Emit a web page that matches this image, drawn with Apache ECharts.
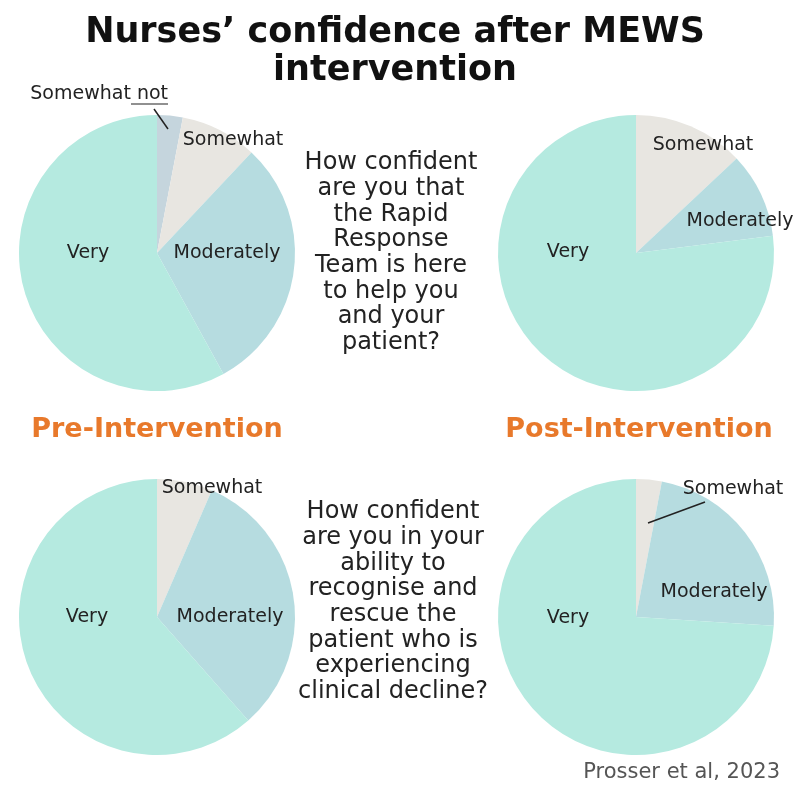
<!DOCTYPE html>
<html>
<head>
<meta charset="utf-8">
<script src="https://cdn.jsdelivr.net/npm/echarts@6/dist/echarts.min.js"></script>
<style>
  html, body { margin: 0; padding: 0; background: #fff; }
  #main { width: 800px; height: 800px; }
</style>
</head>
<body>
<div id="main"></div>
<script>
// 数据
var categories = ['Somewhat not', 'Somewhat', 'Moderately', 'Very'];
var rrtPre  = [3, 9, 30, 58];     // Rapid Response Team - pre
var rrtPost = [0, 13, 10, 77];    // Rapid Response Team - post
var recPre  = [0, 6.5, 32, 61.5]; // recognise & rescue - pre
var recPost = [0, 3, 23, 74];     // recognise & rescue - post
var q1Lines = ['How confident', 'are you that', 'the Rapid', 'Response', 'Team is here', 'to help you', 'and your', 'patient?'];
var q2Lines = ['How confident', 'are you in your', 'ability to', 'recognise and', 'rescue the', 'patient who is', 'experiencing', 'clinical decline?'];

(function () {
    var myChart = echarts.init(document.getElementById('main'));
    var colors = ['#c5d5dd', '#e8e6e1', '#b6dce0', '#b5eae0'];
    var FONT = 'DejaVu Sans';

    function pieData(values) {
        var out = [];
        for (var i = 0; i < categories.length; i++) {
            if (values[i] > 0) {
                out.push({ name: categories[i], value: values[i], itemStyle: { color: colors[i] } });
            }
        }
        return out;
    }

    function pie(values, cx, cy) {
        return {
            type: 'pie',
            center: [cx, cy],
            radius: 138,
            startAngle: 90,
            clockwise: true,
            label: { show: false },
            labelLine: { show: false },
            silent: true,
            z: 1,
            data: pieData(values)
        };
    }

    // 扇区标签
    function sliceLabel(s, x, y, align) {
        return { type: 'text', x: x, y: y, z: 100, style: { text: s, font: '19px "' + FONT + '"', fill: '#222', align: align || 'center', verticalAlign: 'middle' } };
    }
    function line(x1, y1, x2, y2, w) {
        return { type: 'line', z: 100, shape: { x1: x1, y1: y1, x2: x2, y2: y2 }, style: { stroke: '#222', lineWidth: w || 1.5 } };
    }

    var graphics = [
        sliceLabel('Somewhat not', 168, 94, 'right'),
        line(131, 104, 168, 104, 1.2),
        line(154, 109, 168, 129),
        sliceLabel('Somewhat', 233, 140),
        sliceLabel('Moderately', 227, 253),
        sliceLabel('Very', 88, 253),

        sliceLabel('Somewhat', 703, 145),
        sliceLabel('Moderately', 740, 221),
        sliceLabel('Very', 568, 252),

        sliceLabel('Somewhat', 212, 488),
        sliceLabel('Moderately', 230, 617),
        sliceLabel('Very', 87, 617),

        sliceLabel('Somewhat', 733, 489),
        line(648, 523, 705, 502),
        sliceLabel('Moderately', 714, 592),
        sliceLabel('Very', 568, 618),

        { type: 'text', x: 391, y: 253, z: 100, style: { text: q1Lines.join('\n'), font: '24px "' + FONT + '"', lineHeight: 25.7, fill: '#222', align: 'center', verticalAlign: 'middle' } },
        { type: 'text', x: 393, y: 602, z: 100, style: { text: q2Lines.join('\n'), font: '24px "' + FONT + '"', lineHeight: 25.7, fill: '#222', align: 'center', verticalAlign: 'middle' } },

        { type: 'text', x: 157, y: 430, z: 100, style: { text: 'Pre-Intervention', font: 'bold 27px "' + FONT + '"', fill: '#e8792b', align: 'center', verticalAlign: 'middle' } },
        { type: 'text', x: 639, y: 430, z: 100, style: { text: 'Post-Intervention', font: 'bold 27px "' + FONT + '"', fill: '#e8792b', align: 'center', verticalAlign: 'middle' } },
        { type: 'text', x: 780, y: 773, z: 100, style: { text: 'Prosser et al, 2023', font: '21px "' + FONT + '"', fill: '#555', align: 'right', verticalAlign: 'middle' } },
        { type: 'text', x: 395, y: 52, z: 100, style: { text: 'Nurses\u2019 confidence after MEWS\nintervention', font: 'bold 35px "' + FONT + '"', lineHeight: 38, fill: '#111', align: 'center', verticalAlign: 'middle' } }
    ];

    var option = {
        backgroundColor: '#fff',
        animation: false,
        series: [
            pie(rrtPre, 157, 253),
            pie(rrtPost, 636, 253),
            pie(recPre, 157, 617),
            pie(recPost, 636, 617)
        ],
        graphic: graphics
    };
    myChart.setOption(option);
    window.addEventListener('resize', function () {
        myChart.resize();
    });
})();
</script>
</body>
</html>
